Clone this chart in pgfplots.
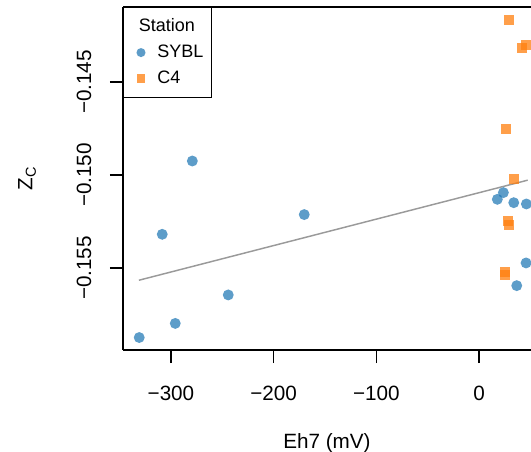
\documentclass[border=0pt]{standalone}
\usepackage{pgfplots}
\pgfplotsset{compat=1.18}
\usepackage{fontspec}
\setmainfont{Liberation Sans}
\definecolor{tabblue}{HTML}{1F77B4}
\definecolor{taborange}{HTML}{FF7F0E}
\definecolor{linegray}{HTML}{9A9A9A}
\begin{document}
\begin{tikzpicture}[x=1pt,y=1pt]
\path[use as bounding box] (0,0) rectangle (398.25pt,339pt);
\begin{axis}[
  at={(92.25pt,76.5pt)}, anchor=south west,
  scale only axis, width=306pt, height=257.25pt,
  xmin=-346.7, xmax=50.6, ymin=-0.15941, ymax=-0.14097,
  axis x line*=bottom, axis y line*=left,
  axis line style={line width=1.1pt},
  tick align=outside, major tick length=9.75pt,
  tick style={line width=1.1pt, black},
  xtick={-300,-200,-100,0}, xticklabels={−300,−200,−100,0},
  ytick={-0.155,-0.150,-0.145}, yticklabels={−0.155,−0.150,−0.145},
  ticklabel style={font=\fontsize{15.5}{18}\selectfont},
  xticklabel style={anchor=center, yshift=-22.5pt},
  yticklabel style={anchor=center, xshift=-19.5pt, rotate=90},
  xlabel={Eh7 (mV)}, ylabel={Z\textsubscript{C}},
  label style={font=\fontsize{15.5}{18}\selectfont},
  xlabel style={at={(axis description cs:0.5,-0.271)}, anchor=center},
  ylabel style={at={(axis description cs:-0.235,0.5)}, anchor=center, rotate=0},
  legend style={at={(axis description cs:0,1)}, anchor=north west, draw=black, line width=0.9pt,
    font=\fontsize{13.5}{16}\selectfont, inner xsep=4pt, inner ysep=6.5pt, row sep=4.5pt},
  legend cell align=left,
  legend image code/.code={\path (0pt,0pt) (18.5pt,0pt); \draw[#1] plot coordinates {(8.6pt,0pt)};},
  clip=true,
]
\addlegendimage{empty legend}
\addlegendentry{\hspace*{-14pt}Station}
\addplot[only marks, mark=*, mark size=4.1pt,
  mark options={fill=tabblue, draw=tabblue, draw opacity=0, fill opacity=0.72},
  legend image post style={mark size=3.4pt}] table {
x y
-279.2 -0.14925
-308.5 -0.15319
-170.2 -0.15213
-244.2 -0.15645
-295.8 -0.15798
-330.9 -0.15874
23.7 -0.15095
17.8 -0.15131
33.8 -0.15149
46.1 -0.15156
45.8 -0.15473
36.7 -0.15595
};
\addlegendentry{SYBL}
\addplot[only marks, mark=square*, mark size=3.75pt,
  mark options={fill=taborange, draw=taborange, draw opacity=0, fill opacity=0.75},
  legend image post style={mark size=3.3pt}] table {
x y
29.5 -0.14168
45.8 -0.14301
41.9 -0.14319
26.0 -0.14754
34.1 -0.15023
28.0 -0.15247
28.9 -0.15269
25.0 -0.15523
25.3 -0.15538
};
\addlegendentry{C4}
\addplot[forget plot, linegray, line width=1.1pt] coordinates {(-331.2,-0.15566) (47.4,-0.15028)};
\draw[line width=1.1pt] (rel axis cs:0,1) -- (rel axis cs:1.01,1);
\end{axis}
\end{tikzpicture}
\end{document}
